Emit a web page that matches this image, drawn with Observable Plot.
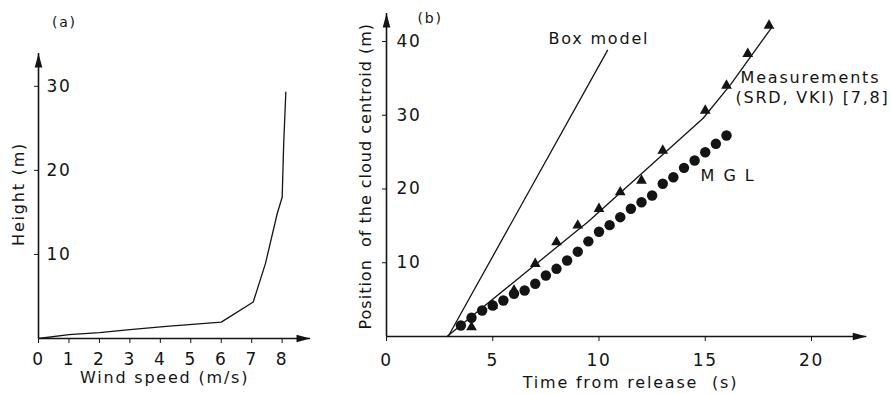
<!DOCTYPE html>
<html>
<head>
<meta charset="utf-8">
<script src="https://cdn.jsdelivr.net/npm/d3@7"></script>
<script src="https://cdn.jsdelivr.net/npm/@observablehq/plot@0.6"></script>
<style>
  html, body { margin: 0; padding: 0; background: #fff; }
  #fig { width: 891px; height: 394px; display: flex; }
  #fig svg { flex: none; overflow: visible; }
</style>
</head>
<body>
<div id="fig"></div>
<script>
// ---- (a) wind speed profile ----
const windSpeed  = [0, 1, 2, 3, 4.2, 6, 7.05, 7.45, 7.84, 8.0, 8.05, 8.12];
const windHeight = [0, 0.45, 0.7, 1.05, 1.45, 1.95, 4.35, 8.9, 14.9, 16.8, 23.2, 29.3];
const speedTicks  = [0, 1, 2, 3, 4, 5, 6, 7, 8];
const heightTicks = [10, 20, 30];
const speedDomain  = [0, 8.93];
const heightDomain = [0, 33.9];

// ---- (b) cloud centroid position vs time ----
const boxTime = [2.9, 10.4];
const boxPos  = [0, 38.8];
const measFitTime = [2.85, 6, 9.5, 14.9, 16.2, 18.15];
const measFitPos  = [0, 7.4, 15.6, 29.6, 34.2, 42.0];
const measTime = [4, 5, 6, 7, 8, 9, 10, 11, 12, 13, 15, 16, 17, 18];
const measPos  = [1.26, 4.2, 6.24, 9.86, 12.79, 15.05, 17.32, 19.57, 21.15, 25.22, 30.64, 34.03, 38.33, 42.17];
const mglTime = [3.5, 4, 4.5, 5, 5.5, 6, 6.5, 7, 7.5, 8, 8.5, 9, 9.5, 10, 10.5, 11, 11.5, 12, 12.5, 13, 13.5, 14, 14.5, 15, 15.5, 16];
const mglPos  = [1.49, 2.54, 3.53, 4.2, 4.88, 5.79, 6.24, 7.15, 8.27, 9.18, 10.31, 11.5, 12.9, 14.2, 15.1, 16.18, 17.32, 18.21, 19.12, 20.71, 21.6, 22.87, 23.86, 24.99, 26.13, 27.25];
const timeTicks = [0, 5, 10, 15, 20];
const posTicks  = [10, 20, 30, 40];
const timeDomain = [0, 22.6];
const posDomain  = [0, 43.8];

const ink = "#141414";
const baseStyle = {
  fontFamily: "'DejaVu Sans', sans-serif",
  fontSize: "16px",
  letterSpacing: "1.8px",
  color: ink,
  background: "#fff",
  overflow: "visible"
};

// filled arrowhead with its tip at the origin, pointing up
const arrowHead = {
  draw(ctx) {
    ctx.moveTo(0, 0);
    ctx.lineTo(-3.8, 14);
    ctx.lineTo(3.8, 14);
    ctx.closePath();
  }
};

const zip = (xs, ys) => xs.map((x, i) => ({x, y: ys[i]}));

// axes drawn as rules from the origin with a filled head at each end
function arrowAxes(xDomain, yDomain) {
  return [
    Plot.ruleY([0], {stroke: ink, strokeWidth: 1.6}),
    Plot.ruleX([0], {stroke: ink, strokeWidth: 1.6}),
    Plot.dot([{x: xDomain[1], y: 0}], {x: "x", y: "y", symbol: arrowHead, rotate: 90, fill: ink, stroke: "none"}),
    Plot.dot([{x: 0, y: yDomain[1]}], {x: "x", y: "y", symbol: arrowHead, rotate: 0, fill: ink, stroke: "none"})
  ];
}

const panelA = Plot.plot({
  width: 340,
  height: 394,
  marginLeft: 38,
  marginRight: 30,
  marginTop: 53,
  marginBottom: 56,
  x: {domain: speedDomain},
  y: {domain: heightDomain},
  style: baseStyle,
  marks: [
    ...arrowAxes(speedDomain, heightDomain),
    Plot.axisX({ticks: speedTicks, tickSize: 5, tickPadding: 9, fontSize: 17, label: null, stroke: ink}),
    Plot.axisY({ticks: heightTicks, tickSize: 4, tickPadding: -12, textAnchor: "start", fontSize: 17, label: null, stroke: ink}),
    Plot.line(zip(windSpeed, windHeight), {x: "x", y: "y", stroke: ink, strokeWidth: 1.3}),
    Plot.text(["(a)"], {x: 0.85, y: 37.6, fontSize: 14}),
    Plot.text(["Height (m)"], {x: -0.63, y: 17.2, rotate: -90}),
    Plot.text(["Wind speed (m/s)"], {x: 4.14, y: -4.7})
  ]
});

const panelB = Plot.plot({
  width: 551,
  height: 394,
  marginLeft: 46,
  marginRight: 24.75,
  marginTop: 13,
  marginBottom: 58,
  x: {domain: timeDomain},
  y: {domain: posDomain},
  style: baseStyle,
  marks: [
    ...arrowAxes(timeDomain, posDomain),
    Plot.axisX({ticks: timeTicks, tickSize: 5, tickPadding: 12, fontSize: 17, label: null, stroke: ink}),
    Plot.axisY({ticks: posTicks, tickSize: 4, tickPadding: -14, textAnchor: "start", fontSize: 17, label: null, stroke: ink}),
    Plot.line(zip(boxTime, boxPos), {x: "x", y: "y", stroke: ink, strokeWidth: 1.3}),
    Plot.line(zip(measFitTime, measFitPos), {x: "x", y: "y", stroke: ink, strokeWidth: 1.3}),
    Plot.dot(zip(mglTime, mglPos), {x: "x", y: "y", r: 5.2, fill: ink, stroke: "none"}),
    Plot.dot(zip(measTime, measPos), {x: "x", y: "y", symbol: "triangle", r: 4, fill: ink, stroke: "none"}),
    Plot.text(["(b)"], {x: 2.05, y: 43.16, fontSize: 14}),
    Plot.text(["Box model"], {x: 7.62, y: 40.4, textAnchor: "start"}),
    Plot.text(["Measurements"], {x: 16.66, y: 35.05, textAnchor: "start"}),
    Plot.text(["(SRD, VKI) [7,8]"], {x: 16.42, y: 32.34, textAnchor: "start"}),
    Plot.text(["MGL"], {x: 14.78, y: 21.83, textAnchor: "start"}),
    Plot.text(["Time from release  (s)"], {x: 11.48, y: -6.24}),
    Plot.text(["Position  of the cloud centroid (m)"], {x: -0.99, y: 0.95, rotate: -90, textAnchor: "start"})
  ]
});

// per-label letter spacing: wide "MGL", tighter rotated title so it stays inside the frame
d3.select(panelB).selectAll("text")
  .filter(function() { return this.textContent === "MGL"; })
  .style("letter-spacing", "9px");
d3.select(panelB).selectAll("text")
  .filter(function() { return this.textContent.startsWith("Position"); })
  .style("letter-spacing", "1px");

const fig = document.getElementById("fig");
fig.appendChild(panelA);
fig.appendChild(panelB);
</script>
</body>
</html>
